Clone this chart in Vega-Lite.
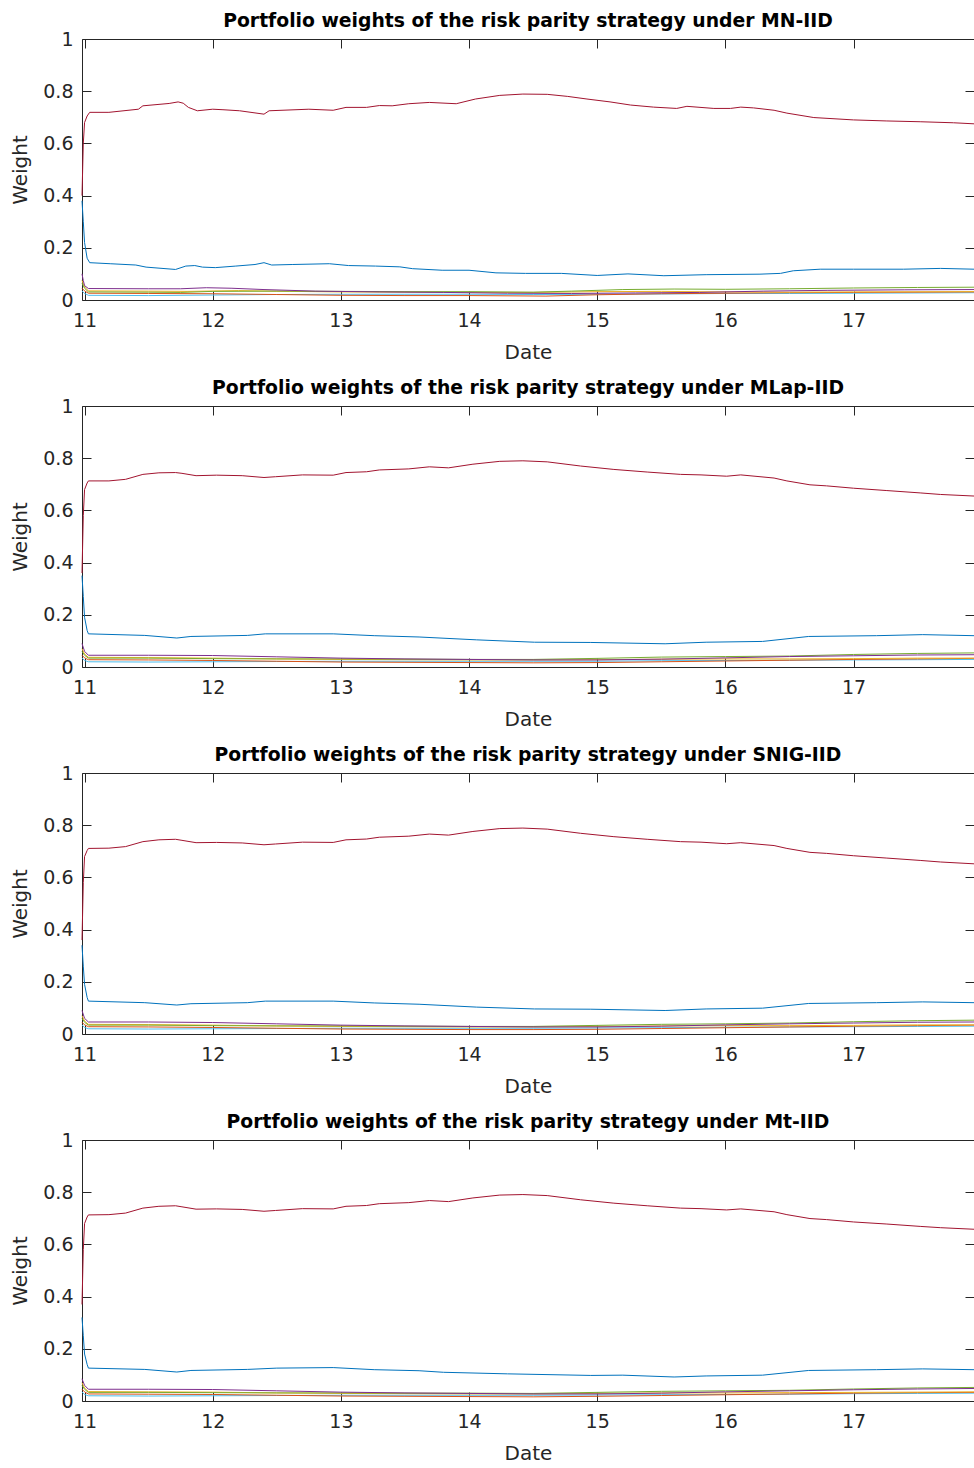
{
"$schema": "https://vega.github.io/schema/vega-lite/v6.json",
"background": "white",
"padding": {"left": 10, "top": 12, "right": 1, "bottom": 2},
"spacing": 17,
"config": {
  "font": "DejaVu Sans",
  "view": {"stroke": null},
  "title": {"font": "DejaVu Sans", "fontSize": 18.8, "fontWeight": "bold", "color": "#000000", "offset": -1, "anchor": "middle"},
  "axis": {"labelFont": "DejaVu Sans", "labelFontSize": 19, "labelColor": "#262626", "titleFont": "DejaVu Sans", "titleFontSize": 20, "titleFontWeight": "normal", "titleColor": "#262626", "domainColor": "#262626", "domainWidth": 1, "tickColor": "#262626", "tickSize": -9, "tickWidth": 1, "grid": false, "labelFlush": false}
},
"datasets": {
"p1": [
{"s":6,"d":10.98,"w":0.035},{"s":6,"d":11.0,"w":0.025},{"s":6,"d":11.03,"w":0.018},{"s":6,"d":11.5,"w":0.017},{"s":6,"d":12.0,"w":0.019},{"s":6,"d":12.5,"w":0.021},{"s":6,"d":13.0,"w":0.022},{"s":6,"d":13.5,"w":0.022},{"s":6,"d":14.0,"w":0.022},{"s":6,"d":14.5,"w":0.021},{"s":6,"d":15.0,"w":0.022},{"s":6,"d":15.5,"w":0.023},{"s":6,"d":16.0,"w":0.025},{"s":6,"d":16.5,"w":0.025},{"s":6,"d":17.0,"w":0.026},{"s":6,"d":17.94,"w":0.028},
{"s":2,"d":10.98,"w":0.045},{"s":2,"d":11.0,"w":0.035},{"s":2,"d":11.03,"w":0.026},{"s":2,"d":11.5,"w":0.025},{"s":2,"d":12.0,"w":0.024},{"s":2,"d":12.5,"w":0.021},{"s":2,"d":13.0,"w":0.018},{"s":2,"d":13.5,"w":0.017},{"s":2,"d":14.0,"w":0.017},{"s":2,"d":14.6,"w":0.015},{"s":2,"d":15.0,"w":0.020},{"s":2,"d":15.5,"w":0.024},{"s":2,"d":16.0,"w":0.026},{"s":2,"d":16.5,"w":0.028},{"s":2,"d":17.0,"w":0.029},{"s":2,"d":17.94,"w":0.031},
{"s":3,"d":10.98,"w":0.075},{"s":3,"d":11.0,"w":0.05},{"s":3,"d":11.03,"w":0.035},{"s":3,"d":11.5,"w":0.034},{"s":3,"d":11.8,"w":0.033},{"s":3,"d":12.2,"w":0.036},{"s":3,"d":12.6,"w":0.033},{"s":3,"d":13.0,"w":0.031},{"s":3,"d":13.5,"w":0.030},{"s":3,"d":14.0,"w":0.029},{"s":3,"d":14.5,"w":0.029},{"s":3,"d":15.0,"w":0.032},{"s":3,"d":15.5,"w":0.033},{"s":3,"d":16.0,"w":0.031},{"s":3,"d":16.5,"w":0.030},{"s":3,"d":17.0,"w":0.031},{"s":3,"d":17.94,"w":0.032},
{"s":5,"d":10.98,"w":0.065},{"s":5,"d":11.0,"w":0.045},{"s":5,"d":11.03,"w":0.031},{"s":5,"d":11.5,"w":0.030},{"s":5,"d":11.75,"w":0.029},{"s":5,"d":12.0,"w":0.033},{"s":5,"d":12.5,"w":0.034},{"s":5,"d":13.0,"w":0.033},{"s":5,"d":13.5,"w":0.032},{"s":5,"d":14.0,"w":0.032},{"s":5,"d":14.5,"w":0.030},{"s":5,"d":14.8,"w":0.034},{"s":5,"d":15.2,"w":0.040},{"s":5,"d":15.6,"w":0.042},{"s":5,"d":16.0,"w":0.041},{"s":5,"d":16.5,"w":0.043},{"s":5,"d":17.0,"w":0.046},{"s":5,"d":17.5,"w":0.048},{"s":5,"d":17.94,"w":0.049},
{"s":4,"d":10.98,"w":0.10},{"s":4,"d":10.99,"w":0.075},{"s":4,"d":11.0,"w":0.055},{"s":4,"d":11.03,"w":0.044},{"s":4,"d":11.5,"w":0.043},{"s":4,"d":11.75,"w":0.043},{"s":4,"d":11.95,"w":0.047},{"s":4,"d":12.15,"w":0.045},{"s":4,"d":12.4,"w":0.040},{"s":4,"d":12.8,"w":0.034},{"s":4,"d":13.3,"w":0.031},{"s":4,"d":13.8,"w":0.029},{"s":4,"d":14.3,"w":0.026},{"s":4,"d":14.8,"w":0.025},{"s":4,"d":15.3,"w":0.027},{"s":4,"d":15.8,"w":0.029},{"s":4,"d":16.3,"w":0.034},{"s":4,"d":16.8,"w":0.037},{"s":4,"d":17.4,"w":0.039},{"s":4,"d":17.94,"w":0.040},
{"s":1,"d":10.98,"w":0.38},{"s":1,"d":10.99,"w":0.30},{"s":1,"d":11.0,"w":0.22},{"s":1,"d":11.02,"w":0.16},{"s":1,"d":11.04,"w":0.143},{"s":1,"d":11.2,"w":0.139},{"s":1,"d":11.4,"w":0.134},{"s":1,"d":11.48,"w":0.126},{"s":1,"d":11.71,"w":0.117},{"s":1,"d":11.79,"w":0.130},{"s":1,"d":11.86,"w":0.132},{"s":1,"d":11.92,"w":0.126},{"s":1,"d":12.02,"w":0.124},{"s":1,"d":12.18,"w":0.130},{"s":1,"d":12.33,"w":0.136},{"s":1,"d":12.4,"w":0.143},{"s":1,"d":12.46,"w":0.134},{"s":1,"d":12.62,"w":0.136},{"s":1,"d":12.91,"w":0.139},{"s":1,"d":13.06,"w":0.132},{"s":1,"d":13.27,"w":0.130},{"s":1,"d":13.46,"w":0.127},{"s":1,"d":13.56,"w":0.120},{"s":1,"d":13.79,"w":0.114},{"s":1,"d":14.0,"w":0.114},{"s":1,"d":14.21,"w":0.104},{"s":1,"d":14.44,"w":0.102},{"s":1,"d":14.72,"w":0.102},{"s":1,"d":15.0,"w":0.094},{"s":1,"d":15.24,"w":0.100},{"s":1,"d":15.52,"w":0.093},{"s":1,"d":15.85,"w":0.097},{"s":1,"d":16.27,"w":0.099},{"s":1,"d":16.43,"w":0.102},{"s":1,"d":16.53,"w":0.112},{"s":1,"d":16.74,"w":0.118},{"s":1,"d":17.0,"w":0.118},{"s":1,"d":17.39,"w":0.118},{"s":1,"d":17.68,"w":0.121},{"s":1,"d":17.94,"w":0.118},
{"s":7,"d":10.98,"w":0.40},{"s":7,"d":10.99,"w":0.60},{"s":7,"d":11.0,"w":0.68},{"s":7,"d":11.02,"w":0.705},{"s":7,"d":11.04,"w":0.719},{"s":7,"d":11.19,"w":0.719},{"s":7,"d":11.42,"w":0.731},{"s":7,"d":11.455,"w":0.744},{"s":7,"d":11.66,"w":0.753},{"s":7,"d":11.73,"w":0.759},{"s":7,"d":11.77,"w":0.754},{"s":7,"d":11.81,"w":0.738},{"s":7,"d":11.88,"w":0.725},{"s":7,"d":12.0,"w":0.731},{"s":7,"d":12.08,"w":0.729},{"s":7,"d":12.21,"w":0.725},{"s":7,"d":12.40,"w":0.712},{"s":7,"d":12.44,"w":0.725},{"s":7,"d":12.75,"w":0.731},{"s":7,"d":12.94,"w":0.727},{"s":7,"d":13.04,"w":0.738},{"s":7,"d":13.2,"w":0.738},{"s":7,"d":13.3,"w":0.745},{"s":7,"d":13.4,"w":0.744},{"s":7,"d":13.53,"w":0.752},{"s":7,"d":13.69,"w":0.757},{"s":7,"d":13.9,"w":0.752},{"s":7,"d":14.05,"w":0.770},{"s":7,"d":14.24,"w":0.784},{"s":7,"d":14.42,"w":0.789},{"s":7,"d":14.61,"w":0.788},{"s":7,"d":14.77,"w":0.780},{"s":7,"d":14.92,"w":0.770},{"s":7,"d":15.1,"w":0.759},{"s":7,"d":15.26,"w":0.747},{"s":7,"d":15.44,"w":0.739},{"s":7,"d":15.62,"w":0.734},{"s":7,"d":15.7,"w":0.742},{"s":7,"d":15.91,"w":0.734},{"s":7,"d":16.04,"w":0.734},{"s":7,"d":16.12,"w":0.739},{"s":7,"d":16.22,"w":0.736},{"s":7,"d":16.38,"w":0.727},{"s":7,"d":16.48,"w":0.716},{"s":7,"d":16.69,"w":0.699},{"s":7,"d":17.0,"w":0.690},{"s":7,"d":17.26,"w":0.686},{"s":7,"d":17.52,"w":0.683},{"s":7,"d":17.78,"w":0.679},{"s":7,"d":17.94,"w":0.675}
],
"p2": [
{"s":6,"d":10.98,"w":0.035},{"s":6,"d":11.0,"w":0.025},{"s":6,"d":11.03,"w":0.020},{"s":6,"d":11.5,"w":0.019},{"s":6,"d":12.0,"w":0.020},{"s":6,"d":12.5,"w":0.021},{"s":6,"d":13.0,"w":0.022},{"s":6,"d":13.5,"w":0.022},{"s":6,"d":14.0,"w":0.022},{"s":6,"d":14.5,"w":0.022},{"s":6,"d":15.0,"w":0.022},{"s":6,"d":15.5,"w":0.024},{"s":6,"d":16.0,"w":0.025},{"s":6,"d":16.5,"w":0.026},{"s":6,"d":17.0,"w":0.027},{"s":6,"d":17.5,"w":0.028},{"s":6,"d":17.94,"w":0.029},
{"s":2,"d":10.98,"w":0.045},{"s":2,"d":11.0,"w":0.035},{"s":2,"d":11.03,"w":0.028},{"s":2,"d":11.5,"w":0.027},{"s":2,"d":12.0,"w":0.025},{"s":2,"d":12.5,"w":0.022},{"s":2,"d":13.0,"w":0.019},{"s":2,"d":13.5,"w":0.018},{"s":2,"d":14.0,"w":0.017},{"s":2,"d":14.5,"w":0.016},{"s":2,"d":15.0,"w":0.017},{"s":2,"d":15.5,"w":0.020},{"s":2,"d":16.0,"w":0.023},{"s":2,"d":16.5,"w":0.026},{"s":2,"d":17.0,"w":0.029},{"s":2,"d":17.5,"w":0.031},{"s":2,"d":17.94,"w":0.033},
{"s":3,"d":10.98,"w":0.07},{"s":3,"d":11.0,"w":0.05},{"s":3,"d":11.03,"w":0.037},{"s":3,"d":11.5,"w":0.036},{"s":3,"d":12.0,"w":0.034},{"s":3,"d":12.5,"w":0.031},{"s":3,"d":13.0,"w":0.029},{"s":3,"d":13.5,"w":0.028},{"s":3,"d":14.0,"w":0.027},{"s":3,"d":14.5,"w":0.027},{"s":3,"d":15.0,"w":0.028},{"s":3,"d":15.5,"w":0.030},{"s":3,"d":16.0,"w":0.031},{"s":3,"d":16.5,"w":0.031},{"s":3,"d":17.0,"w":0.032},{"s":3,"d":17.5,"w":0.034},{"s":3,"d":17.94,"w":0.034},
{"s":5,"d":10.98,"w":0.06},{"s":5,"d":11.0,"w":0.045},{"s":5,"d":11.03,"w":0.034},{"s":5,"d":11.5,"w":0.034},{"s":5,"d":12.0,"w":0.032},{"s":5,"d":12.5,"w":0.031},{"s":5,"d":13.0,"w":0.031},{"s":5,"d":13.5,"w":0.030},{"s":5,"d":14.0,"w":0.029},{"s":5,"d":14.5,"w":0.029},{"s":5,"d":15.0,"w":0.033},{"s":5,"d":15.5,"w":0.038},{"s":5,"d":16.0,"w":0.040},{"s":5,"d":16.5,"w":0.042},{"s":5,"d":17.0,"w":0.048},{"s":5,"d":17.5,"w":0.052},{"s":5,"d":17.94,"w":0.054},
{"s":4,"d":10.98,"w":0.09},{"s":4,"d":11.0,"w":0.06},{"s":4,"d":11.03,"w":0.045},{"s":4,"d":11.5,"w":0.045},{"s":4,"d":12.0,"w":0.044},{"s":4,"d":12.5,"w":0.039},{"s":4,"d":13.0,"w":0.034},{"s":4,"d":13.5,"w":0.031},{"s":4,"d":14.0,"w":0.029},{"s":4,"d":14.5,"w":0.027},{"s":4,"d":15.0,"w":0.027},{"s":4,"d":15.5,"w":0.030},{"s":4,"d":16.0,"w":0.035},{"s":4,"d":16.5,"w":0.040},{"s":4,"d":17.0,"w":0.043},{"s":4,"d":17.5,"w":0.046},{"s":4,"d":17.94,"w":0.047},
{"s":1,"d":10.98,"w":0.35},{"s":1,"d":10.99,"w":0.27},{"s":1,"d":11.0,"w":0.19},{"s":1,"d":11.02,"w":0.14},{"s":1,"d":11.03,"w":0.127},{"s":1,"d":11.47,"w":0.121},{"s":1,"d":11.72,"w":0.111},{"s":1,"d":11.83,"w":0.117},{"s":1,"d":12.27,"w":0.121},{"s":1,"d":12.41,"w":0.127},{"s":1,"d":12.94,"w":0.127},{"s":1,"d":13.26,"w":0.120},{"s":1,"d":13.61,"w":0.115},{"s":1,"d":14.06,"w":0.104},{"s":1,"d":14.51,"w":0.095},{"s":1,"d":14.95,"w":0.094},{"s":1,"d":15.53,"w":0.089},{"s":1,"d":15.85,"w":0.095},{"s":1,"d":16.29,"w":0.098},{"s":1,"d":16.65,"w":0.117},{"s":1,"d":17.18,"w":0.120},{"s":1,"d":17.54,"w":0.124},{"s":1,"d":17.94,"w":0.120},
{"s":7,"d":10.98,"w":0.36},{"s":7,"d":10.99,"w":0.58},{"s":7,"d":11.0,"w":0.68},{"s":7,"d":11.02,"w":0.705},{"s":7,"d":11.03,"w":0.713},{"s":7,"d":11.19,"w":0.713},{"s":7,"d":11.32,"w":0.719},{"s":7,"d":11.455,"w":0.738},{"s":7,"d":11.58,"w":0.744},{"s":7,"d":11.71,"w":0.745},{"s":7,"d":11.76,"w":0.742},{"s":7,"d":11.87,"w":0.733},{"s":7,"d":12.03,"w":0.735},{"s":7,"d":12.23,"w":0.733},{"s":7,"d":12.40,"w":0.726},{"s":7,"d":12.49,"w":0.729},{"s":7,"d":12.70,"w":0.736},{"s":7,"d":12.94,"w":0.735},{"s":7,"d":13.04,"w":0.745},{"s":7,"d":13.2,"w":0.748},{"s":7,"d":13.3,"w":0.755},{"s":7,"d":13.53,"w":0.759},{"s":7,"d":13.69,"w":0.767},{"s":7,"d":13.84,"w":0.763},{"s":7,"d":14.03,"w":0.777},{"s":7,"d":14.24,"w":0.788},{"s":7,"d":14.42,"w":0.790},{"s":7,"d":14.61,"w":0.786},{"s":7,"d":14.87,"w":0.770},{"s":7,"d":15.13,"w":0.757},{"s":7,"d":15.39,"w":0.747},{"s":7,"d":15.65,"w":0.738},{"s":7,"d":15.81,"w":0.736},{"s":7,"d":16.01,"w":0.731},{"s":7,"d":16.12,"w":0.736},{"s":7,"d":16.38,"w":0.724},{"s":7,"d":16.48,"w":0.713},{"s":7,"d":16.66,"w":0.698},{"s":7,"d":16.79,"w":0.694},{"s":7,"d":17.0,"w":0.685},{"s":7,"d":17.26,"w":0.676},{"s":7,"d":17.52,"w":0.667},{"s":7,"d":17.68,"w":0.661},{"s":7,"d":17.94,"w":0.655}
],
"p3": [
{"s":6,"d":10.98,"w":0.035},{"s":6,"d":11.0,"w":0.025},{"s":6,"d":11.03,"w":0.020},{"s":6,"d":11.5,"w":0.019},{"s":6,"d":12.0,"w":0.020},{"s":6,"d":12.5,"w":0.021},{"s":6,"d":13.0,"w":0.022},{"s":6,"d":13.5,"w":0.022},{"s":6,"d":14.0,"w":0.022},{"s":6,"d":14.5,"w":0.022},{"s":6,"d":15.0,"w":0.023},{"s":6,"d":15.5,"w":0.024},{"s":6,"d":16.0,"w":0.026},{"s":6,"d":16.5,"w":0.027},{"s":6,"d":17.0,"w":0.028},{"s":6,"d":17.5,"w":0.029},{"s":6,"d":17.94,"w":0.030},
{"s":2,"d":10.98,"w":0.045},{"s":2,"d":11.0,"w":0.035},{"s":2,"d":11.03,"w":0.028},{"s":2,"d":11.5,"w":0.027},{"s":2,"d":12.0,"w":0.025},{"s":2,"d":12.5,"w":0.022},{"s":2,"d":13.0,"w":0.019},{"s":2,"d":13.5,"w":0.018},{"s":2,"d":14.0,"w":0.017},{"s":2,"d":14.5,"w":0.017},{"s":2,"d":15.0,"w":0.018},{"s":2,"d":15.5,"w":0.021},{"s":2,"d":16.0,"w":0.024},{"s":2,"d":16.5,"w":0.027},{"s":2,"d":17.0,"w":0.030},{"s":2,"d":17.5,"w":0.032},{"s":2,"d":17.94,"w":0.034},
{"s":3,"d":10.98,"w":0.07},{"s":3,"d":11.0,"w":0.05},{"s":3,"d":11.03,"w":0.037},{"s":3,"d":11.5,"w":0.036},{"s":3,"d":12.0,"w":0.034},{"s":3,"d":12.5,"w":0.031},{"s":3,"d":13.0,"w":0.029},{"s":3,"d":13.5,"w":0.028},{"s":3,"d":14.0,"w":0.027},{"s":3,"d":14.5,"w":0.027},{"s":3,"d":15.0,"w":0.029},{"s":3,"d":15.5,"w":0.031},{"s":3,"d":16.0,"w":0.032},{"s":3,"d":16.5,"w":0.032},{"s":3,"d":17.0,"w":0.033},{"s":3,"d":17.5,"w":0.035},{"s":3,"d":17.94,"w":0.035},
{"s":5,"d":10.98,"w":0.06},{"s":5,"d":11.0,"w":0.045},{"s":5,"d":11.03,"w":0.034},{"s":5,"d":11.5,"w":0.034},{"s":5,"d":12.0,"w":0.032},{"s":5,"d":12.5,"w":0.031},{"s":5,"d":13.0,"w":0.031},{"s":5,"d":13.5,"w":0.030},{"s":5,"d":14.0,"w":0.029},{"s":5,"d":14.5,"w":0.029},{"s":5,"d":15.0,"w":0.033},{"s":5,"d":15.5,"w":0.037},{"s":5,"d":16.0,"w":0.039},{"s":5,"d":16.5,"w":0.042},{"s":5,"d":17.0,"w":0.047},{"s":5,"d":17.5,"w":0.051},{"s":5,"d":17.94,"w":0.053},
{"s":4,"d":10.98,"w":0.09},{"s":4,"d":11.0,"w":0.06},{"s":4,"d":11.03,"w":0.046},{"s":4,"d":11.5,"w":0.046},{"s":4,"d":12.0,"w":0.044},{"s":4,"d":12.5,"w":0.039},{"s":4,"d":13.0,"w":0.034},{"s":4,"d":13.5,"w":0.031},{"s":4,"d":14.0,"w":0.029},{"s":4,"d":14.5,"w":0.027},{"s":4,"d":15.0,"w":0.027},{"s":4,"d":15.5,"w":0.030},{"s":4,"d":16.0,"w":0.035},{"s":4,"d":16.5,"w":0.039},{"s":4,"d":17.0,"w":0.042},{"s":4,"d":17.5,"w":0.045},{"s":4,"d":17.94,"w":0.046},
{"s":1,"d":10.98,"w":0.34},{"s":1,"d":10.99,"w":0.26},{"s":1,"d":11.0,"w":0.19},{"s":1,"d":11.02,"w":0.14},{"s":1,"d":11.03,"w":0.126},{"s":1,"d":11.47,"w":0.120},{"s":1,"d":11.72,"w":0.111},{"s":1,"d":11.83,"w":0.116},{"s":1,"d":12.27,"w":0.120},{"s":1,"d":12.41,"w":0.126},{"s":1,"d":12.94,"w":0.126},{"s":1,"d":13.26,"w":0.119},{"s":1,"d":13.61,"w":0.114},{"s":1,"d":14.06,"w":0.103},{"s":1,"d":14.51,"w":0.096},{"s":1,"d":14.95,"w":0.095},{"s":1,"d":15.53,"w":0.090},{"s":1,"d":15.85,"w":0.096},{"s":1,"d":16.29,"w":0.099},{"s":1,"d":16.65,"w":0.117},{"s":1,"d":17.18,"w":0.120},{"s":1,"d":17.54,"w":0.123},{"s":1,"d":17.94,"w":0.120},
{"s":7,"d":10.98,"w":0.36},{"s":7,"d":10.99,"w":0.58},{"s":7,"d":11.0,"w":0.68},{"s":7,"d":11.02,"w":0.703},{"s":7,"d":11.03,"w":0.711},{"s":7,"d":11.19,"w":0.712},{"s":7,"d":11.32,"w":0.718},{"s":7,"d":11.455,"w":0.737},{"s":7,"d":11.58,"w":0.744},{"s":7,"d":11.71,"w":0.746},{"s":7,"d":11.76,"w":0.742},{"s":7,"d":11.87,"w":0.733},{"s":7,"d":12.03,"w":0.734},{"s":7,"d":12.23,"w":0.732},{"s":7,"d":12.40,"w":0.725},{"s":7,"d":12.49,"w":0.728},{"s":7,"d":12.70,"w":0.735},{"s":7,"d":12.94,"w":0.734},{"s":7,"d":13.04,"w":0.744},{"s":7,"d":13.2,"w":0.747},{"s":7,"d":13.3,"w":0.754},{"s":7,"d":13.53,"w":0.758},{"s":7,"d":13.69,"w":0.766},{"s":7,"d":13.84,"w":0.762},{"s":7,"d":14.03,"w":0.776},{"s":7,"d":14.24,"w":0.787},{"s":7,"d":14.42,"w":0.789},{"s":7,"d":14.61,"w":0.785},{"s":7,"d":14.87,"w":0.769},{"s":7,"d":15.13,"w":0.756},{"s":7,"d":15.39,"w":0.746},{"s":7,"d":15.65,"w":0.737},{"s":7,"d":15.81,"w":0.735},{"s":7,"d":16.01,"w":0.729},{"s":7,"d":16.12,"w":0.733},{"s":7,"d":16.38,"w":0.722},{"s":7,"d":16.48,"w":0.711},{"s":7,"d":16.66,"w":0.696},{"s":7,"d":16.79,"w":0.692},{"s":7,"d":17.0,"w":0.683},{"s":7,"d":17.26,"w":0.674},{"s":7,"d":17.52,"w":0.665},{"s":7,"d":17.68,"w":0.659},{"s":7,"d":17.94,"w":0.652}
],
"p4": [
{"s":6,"d":10.98,"w":0.035},{"s":6,"d":11.0,"w":0.025},{"s":6,"d":11.03,"w":0.020},{"s":6,"d":11.5,"w":0.019},{"s":6,"d":12.0,"w":0.020},{"s":6,"d":12.5,"w":0.021},{"s":6,"d":13.0,"w":0.022},{"s":6,"d":13.5,"w":0.022},{"s":6,"d":14.0,"w":0.022},{"s":6,"d":14.5,"w":0.022},{"s":6,"d":15.0,"w":0.023},{"s":6,"d":15.5,"w":0.024},{"s":6,"d":16.0,"w":0.025},{"s":6,"d":16.5,"w":0.026},{"s":6,"d":17.0,"w":0.028},{"s":6,"d":17.5,"w":0.029},{"s":6,"d":17.94,"w":0.030},
{"s":2,"d":10.98,"w":0.045},{"s":2,"d":11.0,"w":0.035},{"s":2,"d":11.03,"w":0.027},{"s":2,"d":11.5,"w":0.026},{"s":2,"d":12.0,"w":0.025},{"s":2,"d":12.5,"w":0.022},{"s":2,"d":13.0,"w":0.019},{"s":2,"d":13.5,"w":0.018},{"s":2,"d":14.0,"w":0.017},{"s":2,"d":14.5,"w":0.016},{"s":2,"d":15.0,"w":0.018},{"s":2,"d":15.5,"w":0.021},{"s":2,"d":16.0,"w":0.024},{"s":2,"d":16.5,"w":0.027},{"s":2,"d":17.0,"w":0.030},{"s":2,"d":17.5,"w":0.032},{"s":2,"d":17.94,"w":0.033},
{"s":3,"d":10.98,"w":0.07},{"s":3,"d":11.0,"w":0.05},{"s":3,"d":11.03,"w":0.036},{"s":3,"d":11.5,"w":0.035},{"s":3,"d":12.0,"w":0.034},{"s":3,"d":12.5,"w":0.031},{"s":3,"d":13.0,"w":0.029},{"s":3,"d":13.5,"w":0.028},{"s":3,"d":14.0,"w":0.027},{"s":3,"d":14.5,"w":0.027},{"s":3,"d":15.0,"w":0.029},{"s":3,"d":15.5,"w":0.031},{"s":3,"d":16.0,"w":0.031},{"s":3,"d":16.5,"w":0.032},{"s":3,"d":17.0,"w":0.033},{"s":3,"d":17.5,"w":0.034},{"s":3,"d":17.94,"w":0.035},
{"s":5,"d":10.98,"w":0.06},{"s":5,"d":11.0,"w":0.045},{"s":5,"d":11.03,"w":0.033},{"s":5,"d":11.5,"w":0.033},{"s":5,"d":12.0,"w":0.032},{"s":5,"d":12.5,"w":0.031},{"s":5,"d":13.0,"w":0.031},{"s":5,"d":13.5,"w":0.030},{"s":5,"d":14.0,"w":0.030},{"s":5,"d":14.5,"w":0.029},{"s":5,"d":15.0,"w":0.033},{"s":5,"d":15.5,"w":0.037},{"s":5,"d":16.0,"w":0.039},{"s":5,"d":16.5,"w":0.041},{"s":5,"d":17.0,"w":0.046},{"s":5,"d":17.5,"w":0.050},{"s":5,"d":17.94,"w":0.052},
{"s":4,"d":10.98,"w":0.085},{"s":4,"d":11.0,"w":0.06},{"s":4,"d":11.03,"w":0.045},{"s":4,"d":11.5,"w":0.045},{"s":4,"d":12.0,"w":0.044},{"s":4,"d":12.5,"w":0.039},{"s":4,"d":13.0,"w":0.034},{"s":4,"d":13.5,"w":0.031},{"s":4,"d":14.0,"w":0.029},{"s":4,"d":14.5,"w":0.027},{"s":4,"d":15.0,"w":0.027},{"s":4,"d":15.5,"w":0.030},{"s":4,"d":16.0,"w":0.035},{"s":4,"d":16.5,"w":0.039},{"s":4,"d":17.0,"w":0.043},{"s":4,"d":17.5,"w":0.046},{"s":4,"d":17.94,"w":0.048},
{"s":1,"d":10.98,"w":0.32},{"s":1,"d":10.99,"w":0.25},{"s":1,"d":11.0,"w":0.18},{"s":1,"d":11.02,"w":0.14},{"s":1,"d":11.03,"w":0.126},{"s":1,"d":11.47,"w":0.121},{"s":1,"d":11.72,"w":0.111},{"s":1,"d":11.83,"w":0.117},{"s":1,"d":12.27,"w":0.121},{"s":1,"d":12.5,"w":0.126},{"s":1,"d":12.94,"w":0.128},{"s":1,"d":13.26,"w":0.120},{"s":1,"d":13.61,"w":0.116},{"s":1,"d":13.8,"w":0.110},{"s":1,"d":14.3,"w":0.104},{"s":1,"d":14.95,"w":0.098},{"s":1,"d":15.2,"w":0.099},{"s":1,"d":15.6,"w":0.092},{"s":1,"d":15.85,"w":0.096},{"s":1,"d":16.29,"w":0.099},{"s":1,"d":16.65,"w":0.117},{"s":1,"d":17.18,"w":0.120},{"s":1,"d":17.54,"w":0.123},{"s":1,"d":17.94,"w":0.120},
{"s":7,"d":10.98,"w":0.37},{"s":7,"d":10.99,"w":0.58},{"s":7,"d":11.0,"w":0.68},{"s":7,"d":11.02,"w":0.705},{"s":7,"d":11.03,"w":0.713},{"s":7,"d":11.19,"w":0.714},{"s":7,"d":11.32,"w":0.720},{"s":7,"d":11.455,"w":0.739},{"s":7,"d":11.58,"w":0.746},{"s":7,"d":11.71,"w":0.748},{"s":7,"d":11.76,"w":0.744},{"s":7,"d":11.87,"w":0.735},{"s":7,"d":12.03,"w":0.736},{"s":7,"d":12.23,"w":0.734},{"s":7,"d":12.40,"w":0.727},{"s":7,"d":12.49,"w":0.730},{"s":7,"d":12.70,"w":0.737},{"s":7,"d":12.94,"w":0.736},{"s":7,"d":13.04,"w":0.746},{"s":7,"d":13.2,"w":0.749},{"s":7,"d":13.3,"w":0.756},{"s":7,"d":13.53,"w":0.760},{"s":7,"d":13.69,"w":0.768},{"s":7,"d":13.84,"w":0.764},{"s":7,"d":14.03,"w":0.778},{"s":7,"d":14.24,"w":0.789},{"s":7,"d":14.42,"w":0.791},{"s":7,"d":14.61,"w":0.787},{"s":7,"d":14.87,"w":0.771},{"s":7,"d":15.13,"w":0.758},{"s":7,"d":15.39,"w":0.748},{"s":7,"d":15.65,"w":0.739},{"s":7,"d":15.81,"w":0.737},{"s":7,"d":16.01,"w":0.732},{"s":7,"d":16.12,"w":0.736},{"s":7,"d":16.38,"w":0.725},{"s":7,"d":16.48,"w":0.714},{"s":7,"d":16.66,"w":0.699},{"s":7,"d":16.79,"w":0.695},{"s":7,"d":17.0,"w":0.686},{"s":7,"d":17.26,"w":0.678},{"s":7,"d":17.52,"w":0.669},{"s":7,"d":17.68,"w":0.664},{"s":7,"d":17.94,"w":0.658}
]
},
"vconcat": [
{
 "title": {"text": "Portfolio weights of the risk parity strategy under MN-IID", "offset": -1},
 "width": 892, "height": 261,
 "data": {"name": "p1"},
 "layer": [
  {"mark": {"type": "line", "strokeWidth": 1},
   "encoding": {
    "x": {"field": "d", "type": "quantitative", "scale": {"domain": [10.98, 17.94], "nice": false, "zero": false}, "axis": {"values": [11,12,13,14,15,16,17], "format": "d", "title": "Date", "labelPadding": 20, "titlePadding": 12}},
    "y": {"field": "w", "type": "quantitative", "scale": {"domain": [0, 1], "nice": false}, "axis": {"values": [0,0.2,0.4,0.6,0.8,1], "format": "~g", "title": "Weight", "labelPadding": 18, "titlePadding": 12}},
    "color": {"field": "s", "type": "nominal", "scale": {"domain": [1,2,3,4,5,6,7], "range": ["#0072BD","#D95319","#EDB120","#7E2F8E","#77AC30","#4DBEEE","#A2142F"]}, "legend": null}
   }},
  {"mark": {"type": "line", "opacity": 0},
   "encoding": {
    "x": {"field": "d", "type": "quantitative", "axis": {"orient": "top", "values": [11,12,13,14,15,16,17], "labels": false, "title": null}},
    "y": {"field": "w", "type": "quantitative", "axis": {"orient": "right", "values": [0,0.2,0.4,0.6,0.8,1], "labels": false, "title": null}},
    "detail": {"field": "s"}
   }}
 ],
 "resolve": {"axis": {"x": "independent", "y": "independent"}}
},
{
 "title": {"text": "Portfolio weights of the risk parity strategy under MLap-IID", "offset": -1},
 "width": 892, "height": 261,
 "data": {"name": "p2"},
 "layer": [
  {"mark": {"type": "line", "strokeWidth": 1},
   "encoding": {
    "x": {"field": "d", "type": "quantitative", "scale": {"domain": [10.98, 17.94], "nice": false, "zero": false}, "axis": {"values": [11,12,13,14,15,16,17], "format": "d", "title": "Date", "labelPadding": 20, "titlePadding": 12}},
    "y": {"field": "w", "type": "quantitative", "scale": {"domain": [0, 1], "nice": false}, "axis": {"values": [0,0.2,0.4,0.6,0.8,1], "format": "~g", "title": "Weight", "labelPadding": 18, "titlePadding": 12}},
    "color": {"field": "s", "type": "nominal", "scale": {"domain": [1,2,3,4,5,6,7], "range": ["#0072BD","#D95319","#EDB120","#7E2F8E","#77AC30","#4DBEEE","#A2142F"]}, "legend": null}
   }},
  {"mark": {"type": "line", "opacity": 0},
   "encoding": {
    "x": {"field": "d", "type": "quantitative", "axis": {"orient": "top", "values": [11,12,13,14,15,16,17], "labels": false, "title": null}},
    "y": {"field": "w", "type": "quantitative", "axis": {"orient": "right", "values": [0,0.2,0.4,0.6,0.8,1], "labels": false, "title": null}},
    "detail": {"field": "s"}
   }}
 ],
 "resolve": {"axis": {"x": "independent", "y": "independent"}}
},
{
 "title": {"text": "Portfolio weights of the risk parity strategy under SNIG-IID", "offset": -1},
 "width": 892, "height": 261,
 "data": {"name": "p3"},
 "layer": [
  {"mark": {"type": "line", "strokeWidth": 1},
   "encoding": {
    "x": {"field": "d", "type": "quantitative", "scale": {"domain": [10.98, 17.94], "nice": false, "zero": false}, "axis": {"values": [11,12,13,14,15,16,17], "format": "d", "title": "Date", "labelPadding": 20, "titlePadding": 12}},
    "y": {"field": "w", "type": "quantitative", "scale": {"domain": [0, 1], "nice": false}, "axis": {"values": [0,0.2,0.4,0.6,0.8,1], "format": "~g", "title": "Weight", "labelPadding": 18, "titlePadding": 12}},
    "color": {"field": "s", "type": "nominal", "scale": {"domain": [1,2,3,4,5,6,7], "range": ["#0072BD","#D95319","#EDB120","#7E2F8E","#77AC30","#4DBEEE","#A2142F"]}, "legend": null}
   }},
  {"mark": {"type": "line", "opacity": 0},
   "encoding": {
    "x": {"field": "d", "type": "quantitative", "axis": {"orient": "top", "values": [11,12,13,14,15,16,17], "labels": false, "title": null}},
    "y": {"field": "w", "type": "quantitative", "axis": {"orient": "right", "values": [0,0.2,0.4,0.6,0.8,1], "labels": false, "title": null}},
    "detail": {"field": "s"}
   }}
 ],
 "resolve": {"axis": {"x": "independent", "y": "independent"}}
},
{
 "title": {"text": "Portfolio weights of the risk parity strategy under Mt-IID", "offset": -1},
 "width": 892, "height": 261,
 "data": {"name": "p4"},
 "layer": [
  {"mark": {"type": "line", "strokeWidth": 1},
   "encoding": {
    "x": {"field": "d", "type": "quantitative", "scale": {"domain": [10.98, 17.94], "nice": false, "zero": false}, "axis": {"values": [11,12,13,14,15,16,17], "format": "d", "title": "Date", "labelPadding": 20, "titlePadding": 12}},
    "y": {"field": "w", "type": "quantitative", "scale": {"domain": [0, 1], "nice": false}, "axis": {"values": [0,0.2,0.4,0.6,0.8,1], "format": "~g", "title": "Weight", "labelPadding": 18, "titlePadding": 12}},
    "color": {"field": "s", "type": "nominal", "scale": {"domain": [1,2,3,4,5,6,7], "range": ["#0072BD","#D95319","#EDB120","#7E2F8E","#77AC30","#4DBEEE","#A2142F"]}, "legend": null}
   }},
  {"mark": {"type": "line", "opacity": 0},
   "encoding": {
    "x": {"field": "d", "type": "quantitative", "axis": {"orient": "top", "values": [11,12,13,14,15,16,17], "labels": false, "title": null}},
    "y": {"field": "w", "type": "quantitative", "axis": {"orient": "right", "values": [0,0.2,0.4,0.6,0.8,1], "labels": false, "title": null}},
    "detail": {"field": "s"}
   }}
 ],
 "resolve": {"axis": {"x": "independent", "y": "independent"}}
}
]
}
